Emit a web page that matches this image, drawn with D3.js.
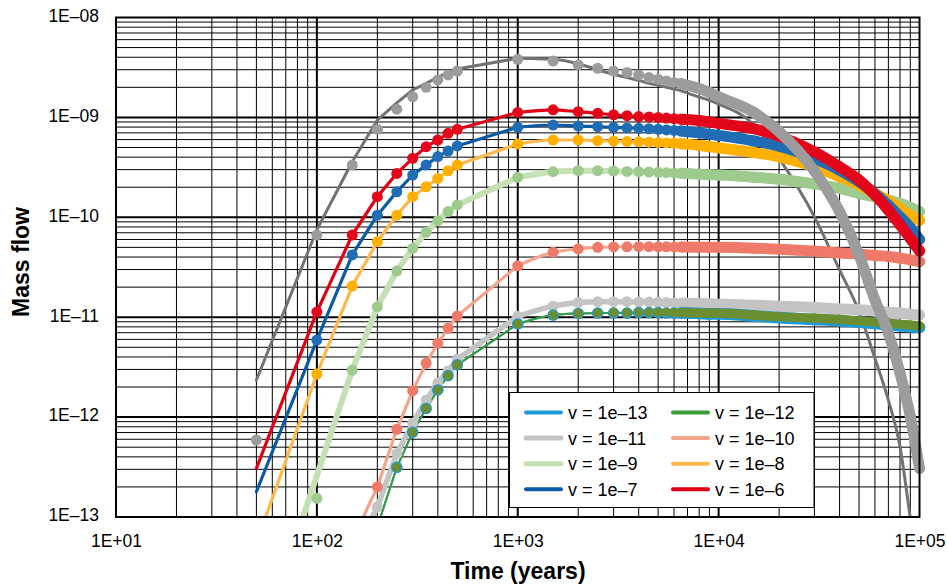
<!DOCTYPE html>
<html>
<head>
<meta charset="utf-8">
<script src="https://cdn.jsdelivr.net/npm/d3@7"></script>
<style>
body { margin: 0; background: #fff; }
svg { display: block; font-family: "Liberation Sans", Arial, sans-serif; }
</style>
</head>
<body>
<svg id="chart" width="947" height="588"></svg>
<script>
// sample times (years)
const times = [50, 100, 150, 200, 250, 300, 350, 400, 450, 500,
  1000, 1500, 2000, 2500, 3000, 3500, 4000, 4500, 5000, 5500,
  6000, 6500, 7000, 8000, 9000, 10000, 15000, 20000, 30000, 40000,
  50000, 60000, 70000, 80000, 90000, 100000];

const xTicks = [10, 100, 1000, 10000, 100000];
const xTickLabels = ["1E+01", "1E+02", "1E+03", "1E+04", "1E+05"];
const yTicks = [1e-8, 1e-9, 1e-10, 1e-11, 1e-12, 1e-13];
const yTickLabels = ["1E\u201308", "1E\u201309", "1E\u201310", "1E\u201311", "1E\u201312", "1E\u201313"];

// mass flow per velocity
const v6 = [3.07e-13, 1.13e-11, 6.65e-11, 1.61e-10, 2.75e-10, 3.89e-10, 5.09e-10, 5.94e-10, 6.93e-10, 7.6e-10,
  1.12e-9, 1.19e-9, 1.14e-9, 1.1e-9, 1.06e-9, 1.04e-9, 1.02e-9, 1.01e-9, 1.0e-9, 9.85e-10,
  9.7e-10, 9.6e-10, 9.5e-10, 9.3e-10, 9.0e-10, 8.7e-10, 7.7e-10, 6.5e-10, 4.53e-10, 3.2e-10,
  2.36e-10, 1.67e-10, 1.18e-10, 8.4e-11, 6.15e-11, 4.6e-11];
const v7 = [1.79e-13, 5.9e-12, 4.2e-11, 1.05e-10, 1.8e-10, 2.65e-10, 3.34e-10, 4.05e-10, 4.61e-10, 5.18e-10,
  7.96e-10, 8.39e-10, 8.2e-10, 8.07e-10, 7.93e-10, 7.85e-10, 7.78e-10, 7.7e-10, 7.6e-10, 7.5e-10,
  7.4e-10, 7.3e-10, 7.2e-10, 7.0e-10, 6.8e-10, 6.6e-10, 5.8e-10, 5.16e-10, 3.89e-10, 2.97e-10,
  2.27e-10, 1.72e-10, 1.32e-10, 1.01e-10, 7.9e-11, 6.0e-11];
const v8 = [5.5e-14, 2.7e-12, 2.05e-11, 5.7e-11, 1.05e-10, 1.61e-10, 2.02e-10, 2.45e-10, 2.92e-10, 3.33e-10,
  5.42e-10, 5.94e-10, 5.94e-10, 5.85e-10, 5.8e-10, 5.75e-10, 5.7e-10, 5.65e-10, 5.6e-10, 5.55e-10,
  5.5e-10, 5.45e-10, 5.4e-10, 5.25e-10, 5.1e-10, 4.95e-10, 4.45e-10, 4.03e-10, 3.2e-10, 2.55e-10,
  2.1e-10, 1.73e-10, 1.47e-10, 1.23e-10, 1.05e-10, 9.3e-11];
const v9 = [4e-15, 2.6e-13, 2.96e-12, 1.27e-11, 2.9e-11, 4.89e-11, 7.08e-11, 9.25e-11, 1.14e-10, 1.33e-10,
  2.51e-10, 2.86e-10, 2.93e-10, 2.93e-10, 2.9e-10, 2.88e-10, 2.86e-10, 2.84e-10, 2.82e-10, 2.8e-10,
  2.78e-10, 2.76e-10, 2.74e-10, 2.7e-10, 2.67e-10, 2.65e-10, 2.52e-10, 2.4e-10, 2.15e-10, 1.95e-10,
  1.73e-10, 1.6e-10, 1.49e-10, 1.38e-10, 1.26e-10, 1.14e-10];
const v9Dots = [null, 1.54e-13].concat(v9.slice(2));
const v10 = [null, null, 5.8e-14, 2.0e-13, 7.55e-13, 1.84e-12, 3.46e-12, 5.48e-12, 7.75e-12, 1.03e-11,
  3.27e-11, 4.47e-11, 4.82e-11, 5.0e-11, 5.05e-11, 5.07e-11, 5.08e-11, 5.08e-11, 5.07e-11, 5.06e-11,
  5.05e-11, 5.04e-11, 5.03e-11, 5.02e-11, 5.01e-11, 5.0e-11, 4.9e-11, 4.8e-11, 4.6e-11, 4.4e-11,
  4.28e-11, 4.15e-11, 4.05e-11, 3.9e-11, 3.75e-11, 3.6e-11];
const v11 = [null, null, 4e-14, 1.26e-13, 4.3e-13, 8.7e-13, 1.48e-12, 2.2e-12, 2.9e-12, 3.8e-12,
  1.02e-11, 1.29e-11, 1.4e-11, 1.43e-11, 1.43e-11, 1.43e-11, 1.42e-11, 1.42e-11, 1.41e-11, 1.4e-11,
  1.39e-11, 1.38e-11, 1.38e-11, 1.37e-11, 1.36e-11, 1.35e-11, 1.32e-11, 1.29e-11, 1.25e-11, 1.21e-11,
  1.19e-11, 1.15e-11, 1.12e-11, 1.1e-11, 1.07e-11, 1.05e-11];
const v12 = [null, null, 2e-14, 8e-14, 3.14e-13, 7.05e-13, 1.22e-12, 1.87e-12, 2.6e-12, 3.33e-12,
  8.55e-12, 1.05e-11, 1.09e-11, 1.1e-11, 1.11e-11, 1.11e-11, 1.12e-11, 1.12e-11, 1.12e-11, 1.12e-11,
  1.11e-11, 1.11e-11, 1.11e-11, 1.1e-11, 1.1e-11, 1.1e-11, 1.05e-11, 1.01e-11, 9.8e-12, 9.5e-12,
  9.2e-12, 8.95e-12, 8.7e-12, 8.5e-12, 8.35e-12, 8.2e-12];
const v13 = [null, null, 2e-14, 8e-14, 3.14e-13, 7.05e-13, 1.22e-12, 1.87e-12, 2.6e-12, 3.33e-12,
  8.55e-12, 1.05e-11, 1.09e-11, 1.1e-11, 1.1e-11, 1.1e-11, 1.11e-11, 1.11e-11, 1.11e-11, 1.1e-11,
  1.1e-11, 1.1e-11, 1.1e-11, 1.09e-11, 1.08e-11, 1.08e-11, 1.03e-11, 9.9e-12, 9.5e-12, 9.2e-12,
  8.9e-12, 8.65e-12, 8.4e-12, 8.2e-12, 8.05e-12, 7.9e-12];
// unlabelled pair: grey markers and dark grey curve
const grayDots = [5.9e-13, 6.65e-11, 3.34e-10, 7.6e-10, 1.21e-9, 1.61e-9, 2.0e-9, 2.37e-9, 2.66e-9, 2.91e-9,
  3.81e-9, 3.67e-9, 3.35e-9, 3.1e-9, 2.91e-9, 2.81e-9, 2.66e-9, 2.51e-9, 2.41e-9, 2.32e-9,
  2.24e-9, 2.18e-9, 2.1e-9, 1.95e-9, 1.78e-9, 1.61e-9, 1.12e-9, 7.2e-10, 2.9e-10, 1.14e-10,
  4.2e-11, 1.49e-11, 6.9e-12, 2.74e-12, 1.01e-12, 3.07e-13];
const grayLine = [2.35e-12, 7.5e-11, 3.6e-10, 9.4e-10, 1.4e-9, 1.88e-9, 2.19e-9, 2.52e-9, 2.83e-9, 3.05e-9,
  3.91e-9, 3.82e-9, 3.45e-9, 3.0e-9, 2.7e-9, 2.5e-9, 2.35e-9, 2.2e-9, 2.1e-9, 2.0e-9,
  1.92e-9, 1.85e-9, 1.75e-9, 1.6e-9, 1.48e-9, 1.36e-9, 8.4e-10, 3.89e-10, 1.01e-10, 2.97e-11,
  1.14e-11, 3.87e-12, 1.48e-12, 5.05e-13, 9.8e-14, 2.5e-14];

// line series (drawn first), then marker series
const lineSeries = [
  { vals: grayLine, color: "#767171", w: 3 },
  { vals: v11, color: "#c4c4c4", w: 5.5 },
  { vals: v13, color: "#1f9ad6", w: 2 },
  { vals: v12, color: "#3a9d3a", w: 2 },
  { vals: v10, color: "#f5a48c", w: 3.2 },
  { vals: v9, color: "#c5e0b4", w: 6 },
  { vals: v8, color: "#ffb84d", w: 3.2 },
  { vals: v7, color: "#0b5aa5", w: 3.2 },
  { vals: v6, color: "#e10016", w: 3.2 }
];
const dotSeries = [
  { vals: v11, color: "#c4c4c4", r: 5.5 },
  { vals: v13, color: "#1f9ad6", r: 5.8 },
  { vals: v12, color: "#6b8f30", r: 4.6 },
  { vals: v10, color: "#ef7a69", r: 5.5 },
  { vals: v9Dots, color: "#9dcb8e", r: 5.5 },
  { vals: v8, color: "#ffb000", r: 5.5 },
  { vals: v7, color: "#216db5", r: 5.5 },
  { vals: v6, color: "#e3061a", r: 5.5 },
  { vals: grayDots, color: "#9c9c9c", r: 5.5, first: true }
];
const legendItems = [
  { label: "v = 1e\u201313", color: "#1f9ad6", w: 4 },
  { label: "v = 1e\u201312", color: "#3a9d3a", w: 4 },
  { label: "v = 1e\u201311", color: "#c4c4c4", w: 5 },
  { label: "v = 1e\u201310", color: "#f5a48c", w: 4 },
  { label: "v = 1e\u20139", color: "#c5e0b4", w: 5 },
  { label: "v = 1e\u20138", color: "#ffb84d", w: 4 },
  { label: "v = 1e\u20137", color: "#0b5aa5", w: 4 },
  { label: "v = 1e\u20136", color: "#e10016", w: 4 }
];

const L = 116, R = 919.5, T = 17.5, B = 517;
const svg = d3.select("#chart");
const x = d3.scaleLog().domain([10, 1e5]).range([L, R]);
const y = d3.scaleLog().domain([1e-13, 1e-8]).range([B, T]);
const isDecade = d => Math.abs(Math.log10(d) - Math.round(Math.log10(d))) < 1e-9;

svg.append("defs").append("clipPath").attr("id", "plot")
  .append("rect").attr("x", L).attr("y", T).attr("width", R - L).attr("height", B - T);
svg.select("defs").append("clipPath").attr("id", "plotWide")
  .append("rect").attr("x", L - 10).attr("y", T - 10).attr("width", R - L + 20).attr("height", B - T + 10);

// grid (1..9 per decade)
const grid = svg.append("g");
grid.selectAll(".gx").data(x.ticks().filter(d => d > 10 && d < 1e5)).join("line")
  .attr("x1", d => x(d)).attr("x2", d => x(d)).attr("y1", T).attr("y2", B)
  .attr("stroke", "#000").attr("stroke-width", d => isDecade(d) ? 2 : 1);
grid.selectAll(".gy").data(y.ticks().filter(d => d > 1.0001e-13 && d < 0.9999e-8)).join("line")
  .attr("x1", L).attr("x2", R).attr("y1", d => y(d)).attr("y2", d => y(d))
  .attr("stroke", "#000").attr("stroke-width", d => isDecade(d) ? 2 : 1);

const pts = vals => times.map((t, i) => ({ t, v: vals[i] })).filter(p => p.v != null);
const lineLin = d3.line().x(p => x(p.t)).y(p => y(p.v));
const lineSmooth = d3.line().x(p => x(p.t)).y(p => y(p.v)).curve(d3.curveMonotoneX);

// lines: straight segments up to 1000 years, smooth after
const gLines = svg.append("g").attr("clip-path", "url(#plot)");
lineSeries.forEach(s => {
  const p = pts(s.vals);
  [lineLin(p.filter(d => d.t <= 1000)), lineSmooth(p.filter(d => d.t >= 1000))].forEach(dStr => {
    gLines.append("path").attr("d", dStr).attr("fill", "none")
      .attr("stroke", s.color).attr("stroke-width", s.w)
      .attr("stroke-linejoin", "round").attr("stroke-linecap", "round");
  });
});

// markers: dots, with the dense tail as a thick band
const gDots = svg.append("g").attr("clip-path", "url(#plotWide)");
dotSeries.forEach(s => {
  const p = pts(s.vals).filter(d => s.first || d.t >= 100);
  gDots.append("path").attr("d", lineSmooth(p.filter(d => d.t >= 6500)))
    .attr("fill", "none").attr("stroke", s.color).attr("stroke-width", s.r * 2)
    .attr("stroke-linecap", "round").attr("stroke-linejoin", "round");
  gDots.selectAll(null).data(p).join("circle")
    .attr("cx", d => x(d.t)).attr("cy", d => y(d.v)).attr("r", s.r)
    .attr("fill", s.color);
});

// frame
svg.append("rect").attr("x", L).attr("y", T).attr("width", R - L).attr("height", B - T)
  .attr("fill", "none").attr("stroke", "#000").attr("stroke-width", 2);

// axes
const xAxis = svg.append("g").attr("transform", `translate(0,${B})`)
  .call(d3.axisBottom(x).tickValues(xTicks).tickFormat((d, i) => xTickLabels[i]).tickSize(0).tickPadding(18));
const yAxis = svg.append("g").attr("transform", `translate(${L},0)`)
  .call(d3.axisLeft(y).tickValues(yTicks).tickFormat((d, i) => yTickLabels[i]).tickSize(0).tickPadding(17));
[xAxis, yAxis].forEach(a => {
  a.select(".domain").remove();
  a.selectAll("text").attr("font-family", "'Liberation Sans', Arial, sans-serif")
    .attr("font-size", 17.5).attr("fill", "#000");
});
yAxis.selectAll("text").attr("dy", "0.22em");

// titles
svg.append("text").attr("x", 518).attr("y", 579).attr("text-anchor", "middle")
  .attr("font-size", 23).attr("font-weight", "bold").text("Time (years)");
svg.append("text").attr("transform", "translate(29,262) rotate(-90)").attr("text-anchor", "middle")
  .attr("font-size", 23).attr("font-weight", "bold").text("Mass flow");

// legend
const leg = svg.append("g");
leg.append("rect").attr("x", 509.5).attr("y", 392.5).attr("width", 304.5).attr("height", 115)
  .attr("fill", "#fff").attr("stroke", "#000").attr("stroke-width", 1);
legendItems.forEach((it, i) => {
  const col = i % 2, row = Math.floor(i / 2);
  const lx = col === 0 ? 526 : 673, ly = 412.5 + row * 25.6;
  leg.append("line").attr("x1", lx).attr("x2", lx + 35).attr("y1", ly).attr("y2", ly)
    .attr("stroke", it.color).attr("stroke-width", it.w).attr("stroke-linecap", "round");
  leg.append("text").attr("x", lx + 42).attr("y", ly + 6.5).attr("font-size", 18).text(it.label);
});
</script>
</body>
</html>
